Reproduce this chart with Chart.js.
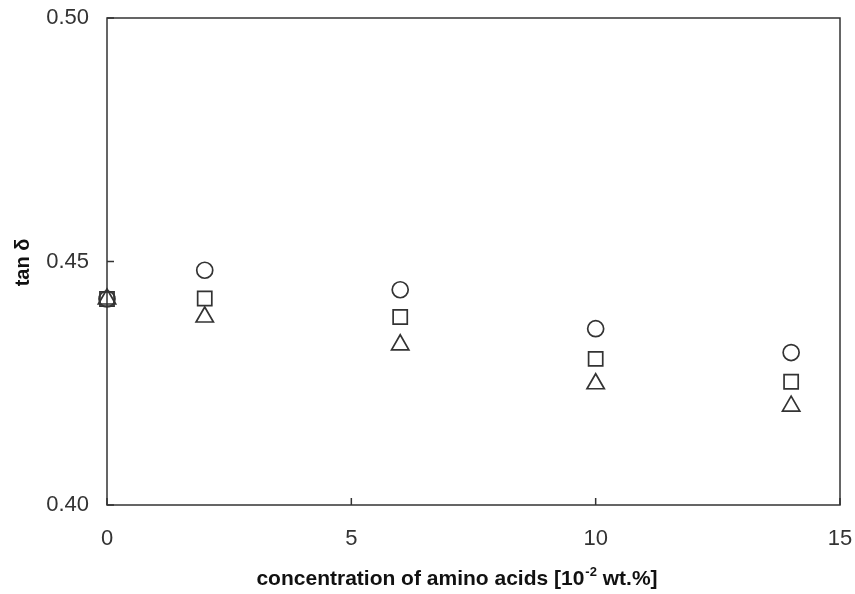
<!DOCTYPE html>
<html>
<head>
<meta charset="utf-8">
<script src="https://cdn.jsdelivr.net/npm/chart.js@4.4.0/dist/chart.umd.min.js"></script>
<style>
  html, body { margin: 0; padding: 0; background: #fff; }
  #wrap { width: 855px; height: 594px; }
</style>
</head>
<body>
<div id="wrap"><canvas id="tanChart" width="855" height="594"></canvas></div>
<script>
// concentration of amino acids [10^-2 wt.%]
var conc = [0, 2, 6, 10, 14];
// tan delta, three series
var seriesCircle = [0.4423, 0.4482, 0.4442, 0.4362, 0.4313];
var seriesSquare = [0.4423, 0.4424, 0.4386, 0.4300, 0.4253];
var seriesTriangle = [0.4423, 0.4386, 0.4329, 0.4249, 0.4203];
var xTicks = [0, 5, 10, 15];
var yTicks = [0.40, 0.45, 0.50];

function pts(ys) {
    return conc.map(function (x, i) { return { x: x, y: ys[i] }; });
}

var ink = '#333';

var frame = {
    id: 'frame',
    afterDraw: function (chart) {
        var c = chart.ctx, a = chart.chartArea;
        var xs = chart.scales.x, ys = chart.scales.y;
        c.save();
        c.strokeStyle = ink;
        c.lineWidth = 1.5;
        c.strokeRect(a.left, a.top, a.right - a.left, a.bottom - a.top);
        // inward ticks
        c.beginPath();
        xTicks.forEach(function (v) {
            var px = xs.getPixelForValue(v);
            c.moveTo(px, a.bottom);
            c.lineTo(px, a.bottom - 7);
        });
        yTicks.forEach(function (v) {
            var py = ys.getPixelForValue(v);
            c.moveTo(a.left, py);
            c.lineTo(a.left + 7, py);
        });
        c.stroke();

        // x title with superscript
        c.fillStyle = '#111';
        c.textBaseline = 'alphabetic';
        var big = 'bold 21px "Liberation Sans", Arial, sans-serif';
        var small = 'bold 13px "Liberation Sans", Arial, sans-serif';
        var p1 = 'concentration of amino acids [10', p2 = '-2', p3 = ' wt.%]';
        c.font = big; var w1 = c.measureText(p1).width, w3 = c.measureText(p3).width;
        c.font = small; var w2 = c.measureText(p2).width;
        var total = w1 + w2 + w3;
        var cx = (a.left + a.right) / 2 - 17;
        var x0 = cx - total / 2, base = 585;
        c.font = big; c.textAlign = 'left';
        c.fillText(p1, x0, base);
        c.font = small; c.fillText(p2, x0 + w1 + 1, base - 9);
        c.font = big; c.fillText(p3, x0 + w1 + w2 + 1, base);

        // y title
        c.save();
        c.translate(29, (a.top + a.bottom) / 2 + 1);
        c.rotate(-Math.PI / 2);
        c.textAlign = 'center';
        c.font = 'bold 20px "Liberation Sans", Arial, sans-serif';
        c.fillText('tan \u03b4', 0, 0);
        c.restore();
        c.restore();
    }
};

var ctx = document.getElementById('tanChart').getContext('2d');

new Chart(ctx, {
    type: 'scatter',
    data: {
        datasets: [{
            data: pts(seriesCircle),
            pointStyle: 'circle',
            pointRadius: 8,
            borderColor: ink,
            backgroundColor: 'rgba(0,0,0,0)',
            borderWidth: 1.7,
            clip: false
        }, {
            data: pts(seriesSquare),
            pointStyle: 'rect',
            pointRadius: 10,
            borderColor: ink,
            backgroundColor: 'rgba(0,0,0,0)',
            borderWidth: 1.7,
            clip: false
        }, {
            data: pts(seriesTriangle),
            pointStyle: 'triangle',
            pointRadius: 10,
            borderColor: ink,
            backgroundColor: 'rgba(0,0,0,0)',
            borderWidth: 1.7,
            clip: false
        }]
    },
    options: {
        responsive: false,
        animation: false,
        layout: { padding: { top: 18, right: 15, left: 0, bottom: 0 } },
        plugins: {
            legend: { display: false },
            tooltip: { enabled: false }
        },
        scales: {
            x: {
                type: 'linear',
                min: 0,
                max: 15,
                afterFit: function (s) { s.height = 89; s.paddingLeft = 0; s.paddingRight = 0; },
                afterBuildTicks: function (s) { s.ticks = xTicks.map(function (v) { return { value: v }; }); },
                grid: { display: false },
                border: { display: false },
                ticks: {
                    color: ink,
                    padding: 13,
                    font: { size: 22, family: '"Liberation Sans", Arial, sans-serif' }
                }
            },
            y: {
                min: 0.40,
                max: 0.50,
                afterFit: function (s) { s.width = 107; s.paddingTop = 0; s.paddingBottom = 0; },
                afterBuildTicks: function (s) { s.ticks = yTicks.map(function (v) { return { value: v }; }); },
                grid: { display: false },
                border: { display: false },
                ticks: {
                    color: ink,
                    padding: 10,
                    font: { size: 22, family: '"Liberation Sans", Arial, sans-serif' },
                    callback: function (v) { return v.toFixed(2); }
                }
            }
        }
    },
    plugins: [frame]
});
</script>
</body>
</html>
